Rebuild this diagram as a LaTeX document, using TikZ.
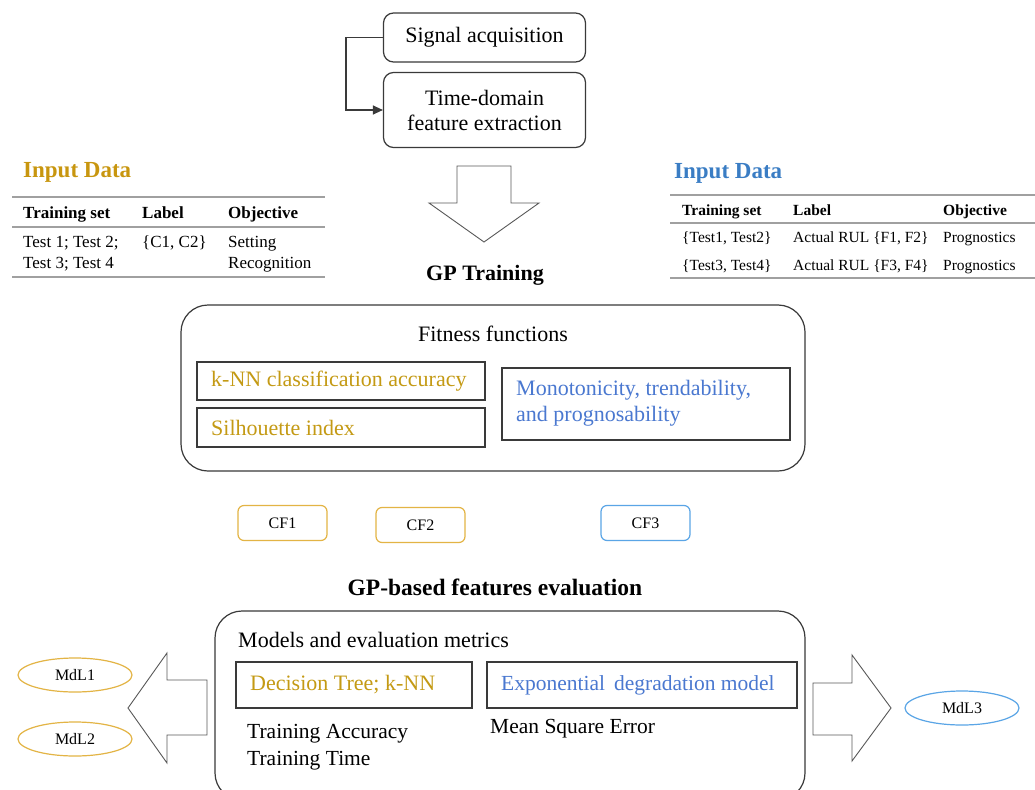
\documentclass[tikz,border=0pt]{standalone}
\usepackage{fontspec}
\setmainfont{Liberation Serif}
\usetikzlibrary{arrows.meta,shapes.geometric}
\definecolor{goldT}{HTML}{C8960F}
\definecolor{goldX}{HTML}{C49A14}
\definecolor{goldB}{HTML}{E3B445}
\definecolor{blueT}{HTML}{3A7DC4}
\definecolor{blueX}{HTML}{4A78D0}
\definecolor{blueB}{HTML}{5AA5E6}
\definecolor{lineC}{HTML}{3A3A3A}
\definecolor{ruleC}{HTML}{A0A0A0}
\tikzset{
  stagebox/.style={draw=lineC, line width=1.2pt, rounded corners=10pt, align=center, font=\fontsize{22}{25}\selectfont},
  bigbox/.style={draw=lineC, line width=1.2pt, rounded corners=27pt},
  cfbox/.style={draw, line width=1.2pt, rounded corners=6pt, minimum width=89pt, minimum height=35pt, font=\fontsize{16}{19}\selectfont},
  mdl/.style={draw, ellipse, line width=1.2pt, minimum width=114pt, minimum height=34pt, inner sep=0pt, font=\fontsize{16}{19}\selectfont},
  bigarrow/.style={draw=lineC!85, line width=0.9pt, fill=white, line join=miter},
  tabrule/.style={draw=ruleC, line width=1.8pt},
  txt/.style={inner sep=0pt, anchor=west, font=\fontsize{22}{26}\selectfont},
  ttl/.style={inner sep=0pt, font=\bfseries\fontsize{22}{26}\selectfont},
  tl/.style={inner sep=0pt, anchor=base west, font=\fontsize{17}{21}\selectfont},
  th/.style={inner sep=0pt, anchor=base west, font=\bfseries\fontsize{17}{20}\selectfont},
  tr/.style={inner sep=0pt, anchor=base west, font=\fontsize{15.5}{18}\selectfont},
  trh/.style={inner sep=0pt, anchor=base west, font=\bfseries\fontsize{15.5}{18}\selectfont},
}
\begin{document}
\begin{tikzpicture}[x=1pt,y=-1pt]
\useasboundingbox[fill=white] (0,0) rectangle (1035,789);

% top pipeline
\node[stagebox, minimum width=202pt, minimum height=49pt] (sig) at (484.5,37.5) {Signal acquisition};
\node[stagebox, minimum width=202pt, minimum height=75pt] (tde) at (484.5,110) {Time-domain\\feature extraction};
\draw[lineC, line width=1.2pt, -{Triangle[length=10pt,width=9pt]}] (sig.west) -- ++(-37,0) |- (tde.west);

% down arrow
\draw[bigarrow] (457,166) -- (511,166) -- (511,203) -- (539,203) -- (484,242) -- (429,203) -- (457,203) -- cycle;

% left table
\node[ttl, anchor=west, text=goldT, font=\bfseries\fontsize{23}{27}\selectfont] (ltitle) at (23,172) {Input Data};
\draw[tabrule] (12,197) -- (325,197);
\draw[tabrule] (12,227) -- (325,227);
\draw[tabrule] (12,277) -- (325,277);
\node[th] (lh1) at (23,218) {Training set};
\node[th] (lh2) at (142,218) {Label};
\node[th] (lh3) at (228,218) {Objective};
\node[tl] (lr1a) at (23,247) {Test 1; Test 2;};
\node[tl] (lr1b) at (23,268) {Test 3; Test 4};
\node[tl] (lr2) at (142,247) {\{C1, C2\}};
\node[tl] (lr3a) at (228,247) {Setting};
\node[tl] (lr3b) at (228,268) {Recognition};

% right table
\node[ttl, anchor=west, text=blueT, font=\bfseries\fontsize{23}{27}\selectfont] (rtitle) at (674,173) {Input Data};
\draw[tabrule] (670,195) -- (1035,195);
\draw[tabrule] (670,223) -- (1035,223);
\draw[tabrule] (670,278) -- (1035,278);
\node[trh] (rh1) at (682,215.5) {Training set};
\node[trh] (rh2) at (793,215.5) {Label};
\node[trh] (rh3) at (943,215.5) {Objective};
\node[tr] (rr11) at (682,242.5) {\{Test1, Test2\}};
\node[tr] (rr12) at (793,242.5) {Actual RUL \{F1, F2\}};
\node[tr] (rr13) at (943,242.5) {Prognostics};
\node[tr] (rr21) at (682,270.5) {\{Test3, Test4\}};
\node[tr] (rr22) at (793,270.5) {Actual RUL \{F3, F4\}};
\node[tr] (rr23) at (943,270.5) {Prognostics};

% GP training
\node[ttl] (gpt) at (485,275) {GP Training};
\draw[bigbox] (181,305) rectangle (805,471);
\node[inner sep=0pt, font=\fontsize{22}{26}\selectfont] (fit) at (493,334) {Fitness functions};
\draw[lineC, line width=1.2pt] (197,362) rectangle (485,400);
\node[txt, text=goldX] (knn) at (211,381) {k-NN classification accuracy};
\draw[lineC, line width=1.2pt] (197,408) rectangle (485,447);
\node[txt, text=goldX] (sil) at (211,428) {Silhouette index};
\draw[lineC, line width=1.2pt] (502,368) rectangle (790,440);
\node[txt, text=blueX, align=left] (mono) at (516,403) {Monotonicity, trendability,\\and prognosability};

% CF boxes
\node[cfbox, draw=goldB] (cf1) at (282.5,523) {CF1};
\node[cfbox, draw=goldB] (cf2) at (420.5,525) {CF2};
\node[cfbox, draw=blueB] (cf3) at (645.5,523) {CF3};

% evaluation
\node[ttl, font=\bfseries\fontsize{23.5}{28}\selectfont] (gpe) at (495,587) {GP-based features evaluation};
\draw[bigbox] (215,611) rectangle (805,800);
\node[txt] (models) at (238,640) {Models and evaluation metrics};
\draw[lineC, line width=1.2pt] (236,662) rectangle (472,708);
\node[txt, text=goldX] (dt) at (250,685) {Decision Tree; k-NN};
\draw[lineC, line width=1.2pt] (487,662) rectangle (797,708);
\node[txt, text=blueX, font=\fontsize{21.5}{26}\selectfont] (exp) at (501,685) {Exponential\, degradation model};
\node[txt, align=left, font=\fontsize{21.5}{27}\selectfont] (tacc) at (247,747) {Training Accuracy\\Training Time};
\node[txt, font=\fontsize{21.5}{26}\selectfont] (mse) at (490,729) {Mean Square Error};

% left / right arrows
\draw[bigarrow] (207,680) -- (167,680) -- (167,653) -- (128,708) -- (167,763) -- (167,735) -- (207,735) -- cycle;
\draw[bigarrow] (813,683) -- (852,683) -- (852,655) -- (891,708) -- (852,761) -- (852,735) -- (813,735) -- cycle;

% model labels
\node[mdl, draw=goldB] (m1) at (75,675) {MdL1};
\node[mdl, draw=goldB] (m2) at (75,739) {MdL2};
\node[mdl, draw=blueB] (m3) at (962,708) {MdL3};
\end{tikzpicture}
\end{document}
